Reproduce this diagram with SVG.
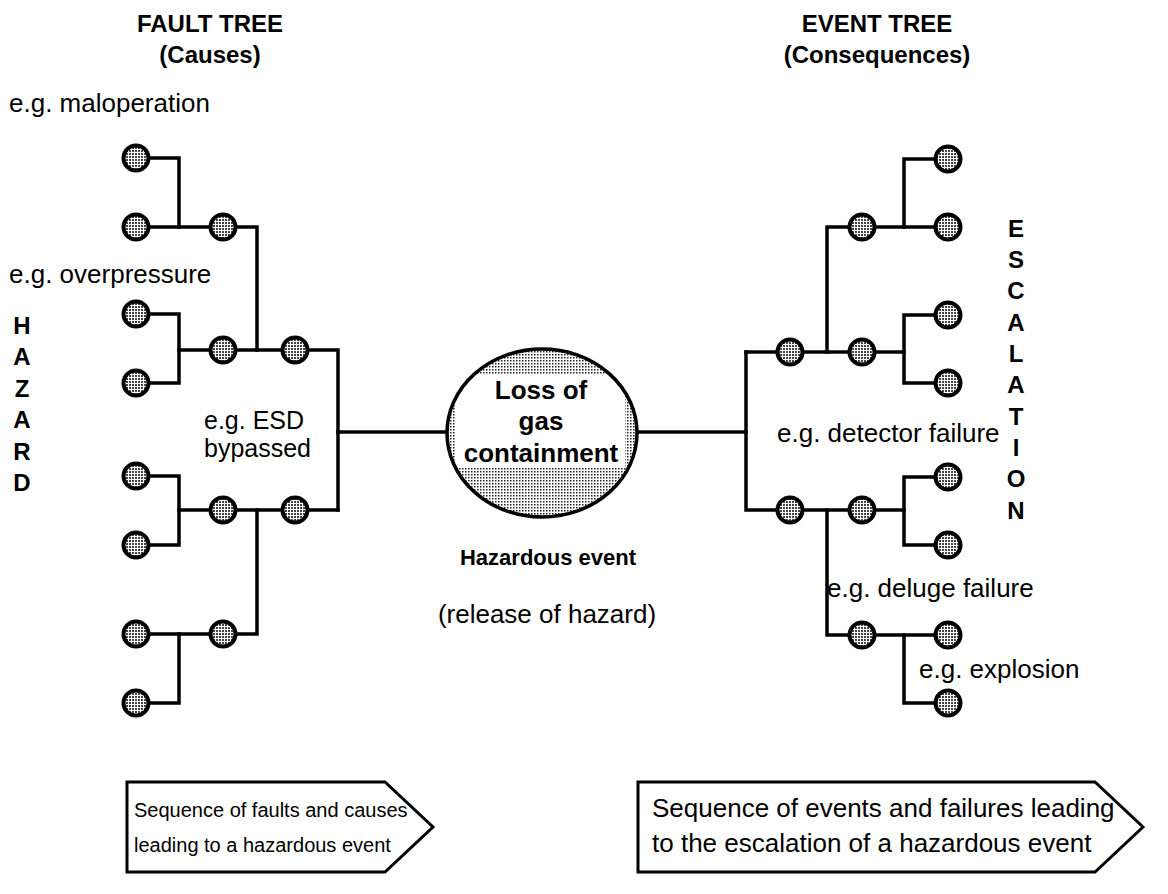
<svg xmlns="http://www.w3.org/2000/svg" width="1168" height="894" viewBox="0 0 1168 894">
<defs>
<pattern id="dots" width="3" height="3" patternUnits="userSpaceOnUse">
<rect width="3" height="3" fill="#fff"/>
<rect width="2" height="2" fill="#444"/>
</pattern>
<pattern id="edots" width="3" height="3" patternUnits="userSpaceOnUse">
<rect width="3" height="3" fill="#fff"/>
<rect width="1.5" height="1.5" fill="#222"/>
</pattern>
<clipPath id="ec"><ellipse cx="542" cy="433" rx="95" ry="84"/></clipPath>
</defs>
<style>
.w{stroke:#000;stroke-width:3.5;fill:none;stroke-linejoin:miter;stroke-linecap:square}
.n{fill:url(#dots);stroke:#000;stroke-width:4}
.t{font-family:"Liberation Sans",Arial,sans-serif;font-size:26px;fill:#000}
.e{font-family:"Liberation Sans",Arial,sans-serif;font-size:25px;fill:#000}
.b{font-family:"Liberation Sans",Arial,sans-serif;font-size:24px;font-weight:bold;fill:#000}
.h{font-family:"Liberation Sans",Arial,sans-serif;font-size:22px;font-weight:bold;fill:#000}
.c{font-family:"Liberation Sans",Arial,sans-serif;font-size:26px;font-weight:bold;fill:#000}
.s{font-family:"Liberation Sans",Arial,sans-serif;font-size:20px;fill:#000}
.bx{fill:#fff;stroke:#000;stroke-width:3}
</style>
<rect width="1168" height="894" fill="#fff"/>
<g id="connectors">
<polyline class="w" points="136,158 179,158 179,227"/>
<polyline class="w" points="136,227 257,227 257,350"/>
<polyline class="w" points="136,314 179,314 179,383 136,383"/>
<polyline class="w" points="179,350 338,350 338,510"/>
<polyline class="w" points="136,476 179,476 179,545 136,545"/>
<polyline class="w" points="179,510 338,510"/>
<polyline class="w" points="257,510 257,634 136,634"/>
<polyline class="w" points="179,634 179,703 136,703"/>
<line class="w" x1="338" y1="432" x2="447" y2="432"/>
<line class="w" x1="637" y1="432" x2="746" y2="432"/>
<polyline class="w" points="746,352 746,510 904,510"/>
<polyline class="w" points="746,352 904,352"/>
<polyline class="w" points="827,352 827,227 948,227"/>
<polyline class="w" points="904,227 904,159 948,159"/>
<polyline class="w" points="948,315 904,315 904,383 948,383"/>
<polyline class="w" points="948,477 904,477 904,545 948,545"/>
<polyline class="w" points="827,510 827,635 948,635"/>
<polyline class="w" points="904,635 904,703 948,703"/>
</g>
<g id="left-nodes">
<circle class="n" cx="136" cy="158" r="12.5"/>
<circle class="n" cx="136" cy="227" r="12.5"/>
<circle class="n" cx="223" cy="227" r="12.5"/>
<circle class="n" cx="136" cy="314" r="12.5"/>
<circle class="n" cx="136" cy="383" r="12.5"/>
<circle class="n" cx="223" cy="350" r="12.5"/>
<circle class="n" cx="295" cy="350" r="12.5"/>
<circle class="n" cx="136" cy="476" r="12.5"/>
<circle class="n" cx="136" cy="545" r="12.5"/>
<circle class="n" cx="223" cy="510" r="12.5"/>
<circle class="n" cx="295" cy="510" r="12.5"/>
<circle class="n" cx="136" cy="634" r="12.5"/>
<circle class="n" cx="223" cy="634" r="12.5"/>
<circle class="n" cx="136" cy="703" r="12.5"/>
</g>
<g id="right-nodes">
<circle class="n" cx="948" cy="159" r="12.5"/>
<circle class="n" cx="948" cy="227" r="12.5"/>
<circle class="n" cx="862" cy="227" r="12.5"/>
<circle class="n" cx="790" cy="352" r="12.5"/>
<circle class="n" cx="862" cy="352" r="12.5"/>
<circle class="n" cx="948" cy="315" r="12.5"/>
<circle class="n" cx="948" cy="383" r="12.5"/>
<circle class="n" cx="790" cy="510" r="12.5"/>
<circle class="n" cx="862" cy="510" r="12.5"/>
<circle class="n" cx="948" cy="477" r="12.5"/>
<circle class="n" cx="948" cy="545" r="12.5"/>
<circle class="n" cx="862" cy="635" r="12.5"/>
<circle class="n" cx="948" cy="635" r="12.5"/>
<circle class="n" cx="948" cy="703" r="12.5"/>
</g>
<g id="hazardous-event">
<ellipse cx="542" cy="433" rx="95" ry="84" fill="url(#edots)"/>
<rect x="455" y="375" width="170" height="93" fill="#fff" clip-path="url(#ec)"/>
<ellipse cx="542" cy="433" rx="95" ry="84" fill="none" stroke="#000" stroke-width="3.5"/>
<text class="c" x="541" y="399" text-anchor="middle">Loss of</text>
<text class="c" x="541" y="430" text-anchor="middle">gas</text>
<text class="c" x="541" y="462" text-anchor="middle">containment</text>
</g>
<g id="labels">
<text class="b" x="210" y="32" text-anchor="middle">FAULT TREE</text>
<text class="b" x="210" y="63" text-anchor="middle">(Causes)</text>
<text class="b" x="877" y="32" text-anchor="middle">EVENT TREE</text>
<text class="b" x="877" y="63" text-anchor="middle">(Consequences)</text>
<text class="t" x="9" y="112">e.g. maloperation</text>
<text class="t" x="9" y="283">e.g. overpressure</text>
<text class="e" x="204" y="429">e.g. ESD</text>
<text class="e" x="204" y="457">bypassed</text>
<text class="t" x="777" y="442">e.g. detector failure</text>
<text class="t" x="827" y="597">e.g. deluge failure</text>
<text class="t" x="919" y="678">e.g. explosion</text>
<text class="h" x="548" y="565" text-anchor="middle">Hazardous event</text>
<text class="t" x="547" y="623" text-anchor="middle">(release of hazard)</text>
<g class="b" text-anchor="middle">
<text x="22" y="334">H</text><text x="22" y="365">A</text><text x="22" y="397">Z</text><text x="22" y="428">A</text><text x="22" y="460">R</text><text x="22" y="491">D</text>
</g>
<g class="b" text-anchor="middle">
<text x="1016" y="237">E</text><text x="1016" y="268">S</text><text x="1016" y="299">C</text><text x="1016" y="331">A</text><text x="1016" y="362">L</text><text x="1016" y="393">A</text><text x="1016" y="425">T</text><text x="1016" y="456">I</text><text x="1016" y="487">O</text><text x="1016" y="519">N</text>
</g>
</g>
<g id="arrow-left">
<polygon class="bx" points="127,782 385,782 433,827 385,872 127,872"/>
<text class="s" x="134" y="817">Sequence of faults and causes</text>
<text class="s" x="134" y="852">leading to a hazardous event</text>
</g>
<g id="arrow-right">
<polygon class="bx" points="638,782 1095,782 1143,827 1095,872 638,872"/>
<text class="t" x="652" y="817">Sequence of events and failures leading</text>
<text class="t" x="652" y="852">to the escalation of a hazardous event</text>
</g>
</svg>
